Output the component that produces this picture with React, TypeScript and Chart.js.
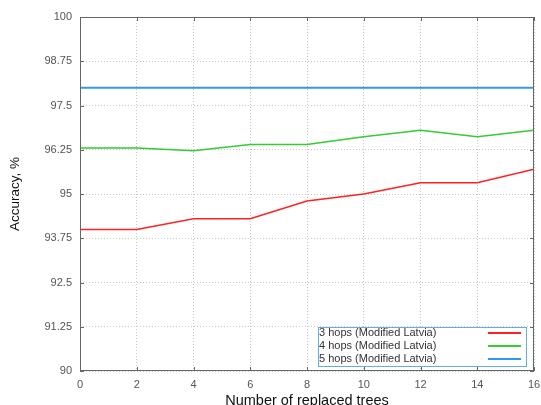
import React, { useEffect, useRef } from "react";
import { Chart, registerables } from "chart.js";

Chart.register(...registerables);

const replacedTrees = [0, 2, 4, 6, 8, 10, 12, 14, 16];
const hops3 = [94.0, 94.0, 94.3, 94.3, 94.8, 95.0, 95.32, 95.32, 95.7];
const hops4 = [96.3, 96.3, 96.22, 96.4, 96.4, 96.62, 96.8, 96.62, 96.8];
const hops5 = [98.0, 98.0, 98.0, 98.0, 98.0, 98.0, 98.0, 98.0, 98.0];
const seriesLabels = ["3 hops (Modified Latvia)", "4 hops (Modified Latvia)", "5 hops (Modified Latvia)"];
const seriesColors = ["#ff2020", "#33cc33", "#3399ee"];
const xTitle = "Number of replaced trees";
const yTitle = "Accuracy, %";
const yMin = 90;
const yMax = 100;
const yStep = 1.25;
const xMin = 0;
const xMax = 16;
const xStep = 2;

const FONT = "'Liberation Sans', Arial, sans-serif";

const framePlugin = {
  id: "frame",
  afterDatasetsDraw(chart: any) {
    const { ctx, chartArea, scales } = chart;
    const { left, right, top, bottom } = chartArea;
    ctx.save();
    ctx.strokeStyle = "#666";
    ctx.lineWidth = 1;
    ctx.setLineDash([]);
    ctx.strokeRect(left + 0.5, top + 0.5, right - left - 1, bottom - top - 1);
    const t = 4;
    ctx.beginPath();
    scales.x.ticks.forEach((tk: any) => {
      const px = Math.round(scales.x.getPixelForValue(tk.value)) + 0.5;
      ctx.moveTo(px, bottom);
      ctx.lineTo(px, bottom - t);
      ctx.moveTo(px, top);
      ctx.lineTo(px, top + t);
    });
    scales.y.ticks.forEach((tk: any) => {
      const py = Math.round(scales.y.getPixelForValue(tk.value)) + 0.5;
      ctx.moveTo(left, py);
      ctx.lineTo(left + t, py);
      ctx.moveTo(right, py);
      ctx.lineTo(right - t, py);
    });
    ctx.stroke();
    ctx.restore();
  },
};

const legendPlugin = {
  id: "boxLegend",
  afterDraw(chart: any) {
    const { ctx, chartArea } = chart;
    const boxRight = chartArea.right - 7;
    const boxBottom = chartArea.bottom - 4;
    const boxW = 209;
    const rowH = 13;
    const boxH = rowH * chart.data.datasets.length + 1;
    const boxLeft = boxRight - boxW;
    const boxTop = boxBottom - boxH;
    ctx.save();
    ctx.fillStyle = "#ffffff";
    ctx.fillRect(boxLeft, boxTop, boxW, boxH);
    ctx.strokeStyle = "#66aaee";
    ctx.lineWidth = 1;
    ctx.strokeRect(boxLeft + 0.5, boxTop + 0.5, boxW - 1, boxH - 1);
    ctx.font = `11px ${FONT}`;
    ctx.textBaseline = "middle";
    ctx.textAlign = "left";
    chart.data.datasets.forEach((ds: any, i: number) => {
      const cy = boxTop + 6 + i * rowH;
      ctx.fillStyle = "#333";
      ctx.fillText(ds.label, boxLeft + 1, cy);
      ctx.strokeStyle = ds.borderColor;
      ctx.lineWidth = 2;
      ctx.beginPath();
      ctx.moveTo(boxRight - 39, cy);
      ctx.lineTo(boxRight - 6, cy);
      ctx.stroke();
    });
    ctx.restore();
  },
};

export default function App() {
  const ref = useRef<HTMLCanvasElement>(null);
  useEffect(() => {
    document.body.style.margin = "0";
    const mk = (vals: number[]) => replacedTrees.map((x, i) => ({ x, y: vals[i] }));
    const chart = new Chart(ref.current!, {
      type: "line",
      data: {
        datasets: [hops3, hops4, hops5].map((vals, i) => ({
          label: seriesLabels[i],
          data: mk(vals),
          borderColor: seriesColors[i],
          backgroundColor: seriesColors[i],
          borderWidth: i === 2 ? 2 : 1.5,
          pointRadius: 0,
          tension: 0,
          fill: false,
        })),
      },
      options: {
        animation: false,
        responsive: false,
        maintainAspectRatio: false,
        layout: { padding: { top: 17, right: 7, left: 0, bottom: 0 } },
        plugins: { legend: { display: false }, tooltip: { enabled: false } },
        scales: {
          x: {
            type: "linear",
            min: xMin,
            max: xMax,
            border: { display: false, dash: [1, 2] } as any,
            grid: { color: "#c8c8c8", tickLength: 0 },
            ticks: { stepSize: xStep, color: "#555", font: { family: FONT, size: 11 }, padding: 7, maxRotation: 0 },
            title: { display: true, text: xTitle, color: "#111", font: { family: FONT, size: 14.5 }, padding: { top: 2, bottom: 2 } },
            afterFit(scale: any) {
              scale.height = 41;
              scale.paddingRight = 0;
              scale.paddingLeft = 0;
            },
          },
          y: {
            type: "linear",
            min: yMin,
            max: yMax,
            border: { display: false, dash: [1, 2] } as any,
            grid: { color: "#c8c8c8", tickLength: 0 },
            ticks: {
              stepSize: yStep,
              color: "#555",
              font: { family: FONT, size: 11 },
              padding: 8,
              callback: (v: any) => `${+Number(v).toFixed(2)}`,
            },
            title: { display: true, text: yTitle, color: "#111", font: { family: FONT, size: 13.5 }, padding: { top: 7, bottom: 4 } },
            afterFit(scale: any) {
              scale.width = 80;
            },
          },
        },
      },
      plugins: [framePlugin, legendPlugin],
    });
    return () => chart.destroy();
  }, []);
  return (
    <div style={{ position: "relative", width: 541, height: 405, overflow: "hidden", background: "#fff" }}>
      <canvas ref={ref} width={541} height={412} style={{ display: "block", width: 541, height: 412 }} />
    </div>
  );
}
